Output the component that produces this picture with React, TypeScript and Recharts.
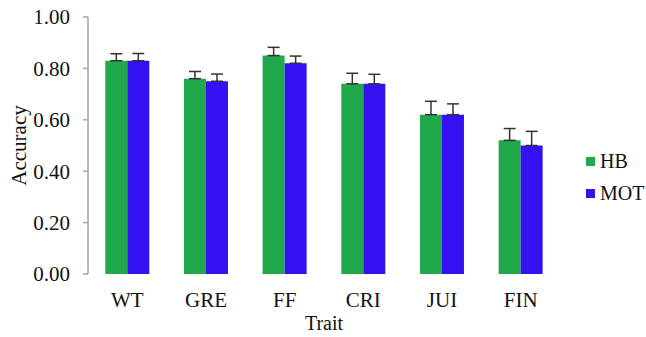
import React from "react";
import { BarChart, Bar, XAxis, YAxis, ErrorBar, Legend } from "recharts";

const categories = ["WT", "GRE", "FF", "CRI", "JUI", "FIN"];
const hbValues = [0.83, 0.76, 0.85, 0.74, 0.62, 0.52];
const motValues = [0.83, 0.75, 0.82, 0.74, 0.62, 0.5];
const hbErrors = [0.027, 0.028, 0.032, 0.041, 0.052, 0.046];
const motErrors = [0.028, 0.028, 0.028, 0.037, 0.042, 0.055];
const yTicks = [0, 0.2, 0.4, 0.6, 0.8, 1.0];
const boundaryTicks = [0, 1, 2, 3, 4, 5, 6];

const GREEN = "#21a84b";
const BLUE = "#3311f0";
const AXIS = "#a6a6a6";
const FONT = "'Liberation Serif', serif";

const data = categories.map((c, i) => ({
  trait: c,
  HB: hbValues[i],
  MOT: motValues[i],
  hbErr: [0, hbErrors[i]],
  motErr: [0, motErrors[i]],
}));

const legendItems = [
  { name: "HB", color: GREEN },
  { name: "MOT", color: BLUE },
];

// legend drawn as svg so it uses the same serif text as the axes
function LegendBox() {
  return (
    <svg width={70} height={64}>
      {legendItems.map((it, i) => (
        <g key={it.name} transform={`translate(0, ${i * 32})`}>
          <rect x={0} y={11} width={9} height={9} fill={it.color} />
          <text x={14} y={22} style={{ fontFamily: FONT, fontSize: 20, fill: "#111" }}>
            {it.name}
          </text>
        </g>
      ))}
    </svg>
  );
}

export default function App() {
  return (
    <div style={{ position: "absolute", left: 0, top: 0, width: 646, height: 337, background: "#fff" }}>
      <BarChart
        width={646}
        height={337}
        data={data}
        margin={{ top: 17, right: 86, left: 17, bottom: 33 }}
        barCategoryGap="22%"
        barGap={0}
      >
        <XAxis
          xAxisId="grid"
          type="number"
          domain={[0, 6]}
          ticks={boundaryTicks}
          tickFormatter={() => ""}
          height={0}
          tickSize={5}
          axisLine={{ stroke: AXIS, strokeWidth: 1.5 }}
          tickLine={{ stroke: AXIS, strokeWidth: 1.5 }}
        />
        <XAxis
          xAxisId="cat"
          dataKey="trait"
          height={30}
          tickSize={0}
          tickMargin={18}
          axisLine={false}
          tickLine={false}
          tick={{ fill: "#111", fontSize: 21, fontFamily: FONT }}
          label={{
            value: "Trait",
            position: "bottom",
            offset: 12,
            style: { textAnchor: "middle", fill: "#111", fontSize: 20, fontFamily: FONT },
          }}
        />
        <YAxis
          domain={[0, 1]}
          ticks={yTicks}
          width={71}
          tickSize={5}
          tickMargin={13}
          tickFormatter={(v: number) => v.toFixed(2)}
          axisLine={{ stroke: AXIS, strokeWidth: 1.5 }}
          tickLine={{ stroke: AXIS, strokeWidth: 1.5 }}
          tick={{ fill: "#111", fontSize: 21, fontFamily: FONT }}
          label={{
            value: "Accuracy",
            angle: -90,
            position: "insideLeft",
            offset: 2,
            style: { textAnchor: "middle", fill: "#111", fontSize: 21, fontFamily: FONT },
          }}
        />
        <Legend
          layout="vertical"
          align="center"
          verticalAlign="middle"
          wrapperStyle={{ left: 586, top: 146, width: 70 }}
          content={() => <LegendBox />}
        />
        <Bar xAxisId="cat" dataKey="HB" fill={GREEN} isAnimationActive={false}>
          <ErrorBar dataKey="hbErr" width={6} stroke="#333" strokeWidth={1.5} direction="y" />
        </Bar>
        <Bar xAxisId="cat" dataKey="MOT" fill={BLUE} isAnimationActive={false}>
          <ErrorBar dataKey="motErr" width={6} stroke="#333" strokeWidth={1.5} direction="y" />
        </Bar>
      </BarChart>
    </div>
  );
}
